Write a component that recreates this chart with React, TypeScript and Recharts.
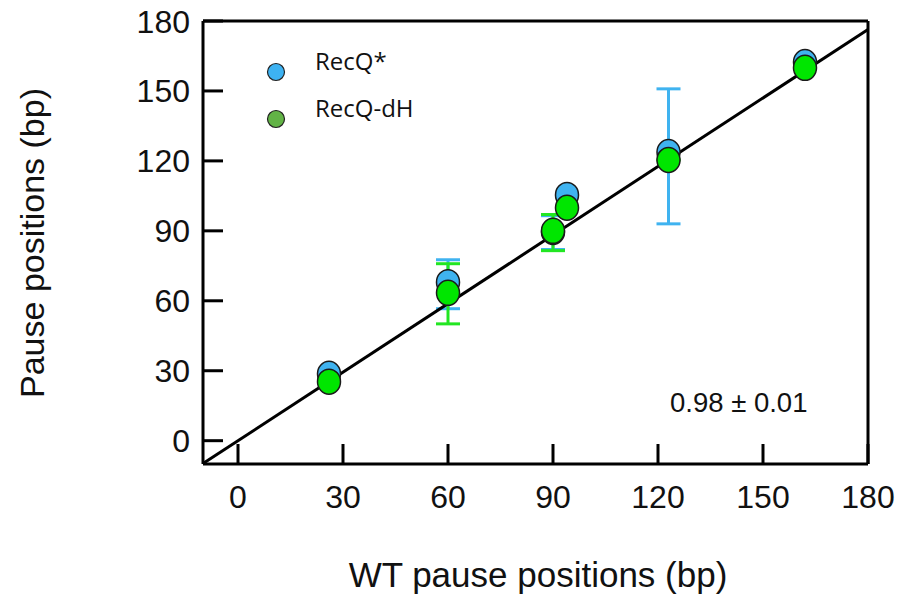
import { ScatterChart, Scatter, XAxis, YAxis, ErrorBar, ReferenceLine } from "recharts";

// WT pause positions (bp), shared x for both mutants
const wtPositions = [26, 60, 90, 94, 123, 162];

// RecQ* pause positions + asymmetric error (low, high)
const recqStar = [28.7, 68, 89.5, 105.4, 123.8, 162.4];
const recqStarErrLow = [0, 11.4, 7.5, 0, 30.8, 0];
const recqStarErrHigh = [0, 9.6, 7, 0, 27.1, 0];

// RecQ-dH pause positions + asymmetric error (low, high)
const recqDh = [25.3, 63.4, 90, 99.9, 120.4, 159.9];
const recqDhErrLow = [0, 13.3, 8.5, 0, 0, 0];
const recqDhErrHigh = [0, 12.5, 7, 0, 0, 0];

// linear fit, slope 0.98 ± 0.01
const fitLine = [
  { x: -10, y: -9.8 },
  { x: 180, y: 176.4 },
];

const axisTicks = [0, 30, 60, 90, 120, 150, 180];

const FONT = "'Liberation Sans', Arial, sans-serif";
const BLUE = "#3fb3f0";
const GREEN = "#00e600";

const starData = wtPositions.map((x, i) => ({
  x,
  y: recqStar[i],
  err: [recqStarErrLow[i], recqStarErrHigh[i]],
}));

const dhData = wtPositions.map((x, i) => ({
  x,
  y: recqDh[i],
  err: [recqDhErrLow[i], recqDhErrHigh[i]],
}));

const Marker = (fill: string) => (props: any) => {
  const { cx, cy } = props;
  if (cx == null || cy == null) return <g />;
  return <ellipse cx={cx} cy={cy} rx={11.5} ry={12.5} fill={fill} stroke="#1a1a1a" strokeWidth={1.5} />;
};

const XTick = (props: any) => {
  const { x, y, payload } = props;
  return (
    <g>
      <line x1={x} x2={x} y1={y} y2={y - 20} stroke="#000" strokeWidth={3} />
      <text x={x} y={y + 44} textAnchor="middle" fontSize={32} fontFamily={FONT} fill="#111">
        {payload.value}
      </text>
    </g>
  );
};

const YTick = (props: any) => {
  const { x, y, payload } = props;
  return (
    <g>
      <line x1={x} x2={x + 20} y1={y} y2={y} stroke="#000" strokeWidth={3} />
      <text x={x - 13} y={y} dy="0.36em" textAnchor="end" fontSize={32} fontFamily={FONT} fill="#111">
        {payload.value}
      </text>
    </g>
  );
};

export default function App() {
  return (
    <div style={{ position: "absolute", left: 0, top: 0, width: 913, height: 597, background: "#fff" }}>
      <ScatterChart width={913} height={597} margin={{ top: 21, right: 45, left: 0, bottom: 0 }}>
        <XAxis
          type="number"
          dataKey="x"
          domain={[-10, 180]}
          ticks={axisTicks}
          height={133}
          tickSize={0}
          tickMargin={0}
          tickLine={false}
          tick={<XTick />}
          axisLine={{ stroke: "#000", strokeWidth: 3 }}
          allowDataOverflow
        />
        <YAxis
          type="number"
          dataKey="y"
          domain={[-10, 180]}
          ticks={axisTicks}
          width={203}
          tickSize={0}
          tickMargin={0}
          tickLine={false}
          tick={<YTick />}
          axisLine={{ stroke: "#000", strokeWidth: 3 }}
          allowDataOverflow
        />
        <ReferenceLine y={180} stroke="#000" strokeWidth={3} />
        <ReferenceLine x={180} stroke="#000" strokeWidth={3} />
        <Scatter data={starData} fill={BLUE} shape={Marker(BLUE)} isAnimationActive={false}>
          <ErrorBar dataKey="err" direction="y" width={12} stroke={BLUE} strokeWidth={3} />
        </Scatter>
        <Scatter data={dhData} fill={GREEN} shape={Marker(GREEN)} isAnimationActive={false}>
          <ErrorBar dataKey="err" direction="y" width={12} stroke="#22e622" strokeWidth={3} />
        </Scatter>
        <ReferenceLine segment={fitLine} stroke="#000" strokeWidth={3} />
      </ScatterChart>

      <svg
        width={913}
        height={597}
        style={{ position: "absolute", left: 0, top: 0, pointerEvents: "none" }}
      >
        <circle cx={276} cy={72} r={8.5} fill="#3db2f2" stroke="#222" strokeWidth={1.2} />
        <circle cx={276} cy={119} r={8.5} fill="#62b346" stroke="#222" strokeWidth={1.2} />
        <text x={315} y={70} fontSize={24} fontFamily="'Open Sans', sans-serif" fill="#111">
          RecQ*
        </text>
        <text x={315} y={117} fontSize={24} fontFamily="'Open Sans', sans-serif" fill="#111">
          RecQ-dH
        </text>
        <text x={670} y={412} fontSize={27.5} fontFamily={FONT} fill="#111">
          0.98 ± 0.01
        </text>
        <text x={538} y={587} textAnchor="middle" fontSize={35} fontFamily={FONT} fill="#111">
          WT pause positions (bp)
        </text>
        <text
          x={0}
          y={0}
          transform="translate(44 243) rotate(-90)"
          textAnchor="middle"
          fontSize={34}
          fontFamily={FONT}
          fill="#111"
        >
          Pause positions (bp)
        </text>
      </svg>
    </div>
  );
}
